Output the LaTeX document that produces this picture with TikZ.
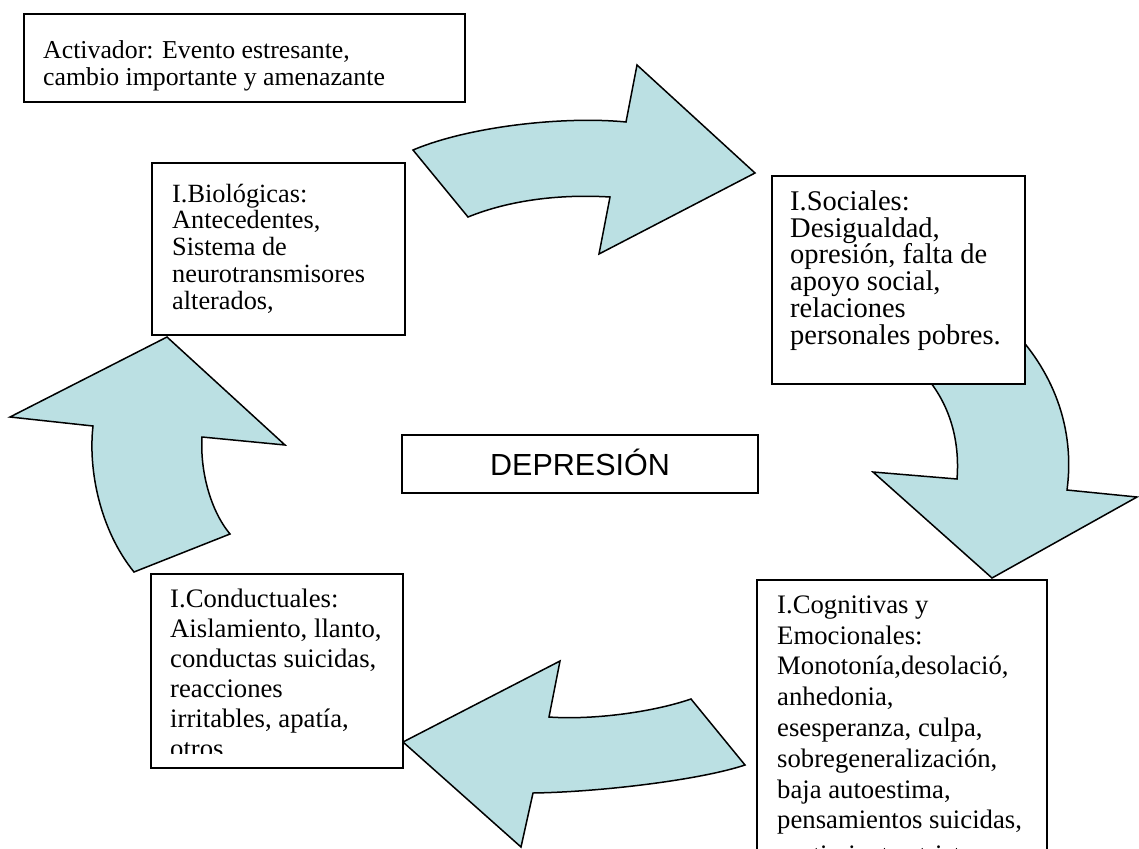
\documentclass[tikz,border=0pt]{standalone}
\usepackage{fontspec}
\setmainfont{Liberation Serif}
\newfontfamily\arialfont{Liberation Sans}
\usepackage{xcolor}
\usepackage{tikz}
\usetikzlibrary{positioning}
\definecolor{azulflecha}{RGB}{187,224,227}
\newcommand{\alto}{\rule{0pt}{22pt}}

\begin{document}
\begin{tikzpicture}[x=1pt,y=-1pt,
	caja/.style={draw=black,line width=1.8pt,fill=white,rectangle,inner sep=0pt,anchor=north west},
	texto/.style={inner sep=0pt,align=left},
	arriba/.style={font={\fontsize{26.3pt}{26.7pt}\selectfont}},
	abajo/.style={font={\fontsize{26.7pt}{30pt}\selectfont}},
	flecha/.style={fill=azulflecha,draw=black,line width=1.5pt,line join=miter}]
		\clip (0,0) rectangle (1139,848);
		% flechas del ciclo
		\draw[flecha] (413,150) -- (468,217) .. controls (510,200) and (560,194) .. (610,197) -- (599,254) -- (755,173) -- (637,65) -- (626,122) .. controls (565,116) and (470,126) .. (413,150) -- cycle;
		\draw[flecha] (1005,322) .. controls (1055,370) and (1075,430) .. (1067,490) -- (1137,497) -- (992,578) -- (873,472) -- (957,479) .. controls (960,440) and (950,400) .. (918,368) -- cycle;
		\draw[flecha] (403,742) -- (560,661) -- (549,717) .. controls (590,720) and (650,713) .. (691,699) -- (745,765) .. controls (700,780) and (600,792) .. (533,793) -- (521,847) -- cycle;
		\draw[flecha] (167,337) -- (285,445) -- (202,437) .. controls (200,470) and (210,510) .. (230,534) -- (134,572) .. controls (100,530) and (88,470) .. (93,426) -- (10,417) -- cycle;
		% cajas
		\node[caja,minimum width=441pt,minimum height=88pt] (activador) at (23,13) {};
		\node[caja,minimum width=253pt,minimum height=172pt] (biologicas) at (151,162) {};
		\node[caja,minimum width=253pt,minimum height=208pt] (sociales) at (771,175) {};
		\node[caja,minimum width=252pt,minimum height=194pt] (conductuales) at (150,573) {};
		\node[caja,minimum width=290pt,minimum height=320pt] (cognitivas) at (756,579) {};
		\node[draw=black,line width=1.8pt,minimum width=356pt,minimum height=58pt,text height=22pt,text depth=0pt,font={\arialfont\fontsize{30.5pt}{36pt}\selectfont}] (depresion) at (580,464) {DEPRESIÓN};
		% textos
		\node[texto,font={\fontsize{25.8pt}{27.5pt}\selectfont},below right=23pt and 20pt of activador.north west] (activadortxt) {\alto Activador: Evento estresante,\\cambio importante y amenazante};
		\node[texto,arriba,below right=18pt and 21pt of biologicas.north west] (biologicastxt) {\alto I.Biológicas:\\Antecedentes,\\Sistema de\\neurotransmisores\\alterados,};
		\node[texto,font={\fontsize{28.5pt}{26.8pt}\selectfont},below right=13pt and 19pt of sociales.north west] (socialestxt) {\alto I.Sociales:\\Desigualdad,\\opresión, falta de\\apoyo social,\\relaciones\\personales pobres.};
		\begin{scope}
			\clip (150,573) rectangle (402,753);
			\node[texto,abajo,below right=12pt and 20pt of conductuales.north west] (conductualestxt) {\alto I.Conductuales:\\Aislamiento, llanto,\\conductas suicidas,\\reacciones\\irritables, apatía,\\otros};
		\end{scope}
		\node[texto,font={\fontsize{26.7pt}{30.8pt}\selectfont},below right=12pt and 21pt of cognitivas.north west] (cognitivastxt) {\alto I.Cognitivas y\\Emocionales:\\Monotonía,desolació,\\anhedonia,\\esesperanza, culpa,\\sobregeneralización,\\baja autoestima,\\pensamientos suicidas,\\[4pt]sentimientos tristes};
	\end{tikzpicture}
\end{document}
